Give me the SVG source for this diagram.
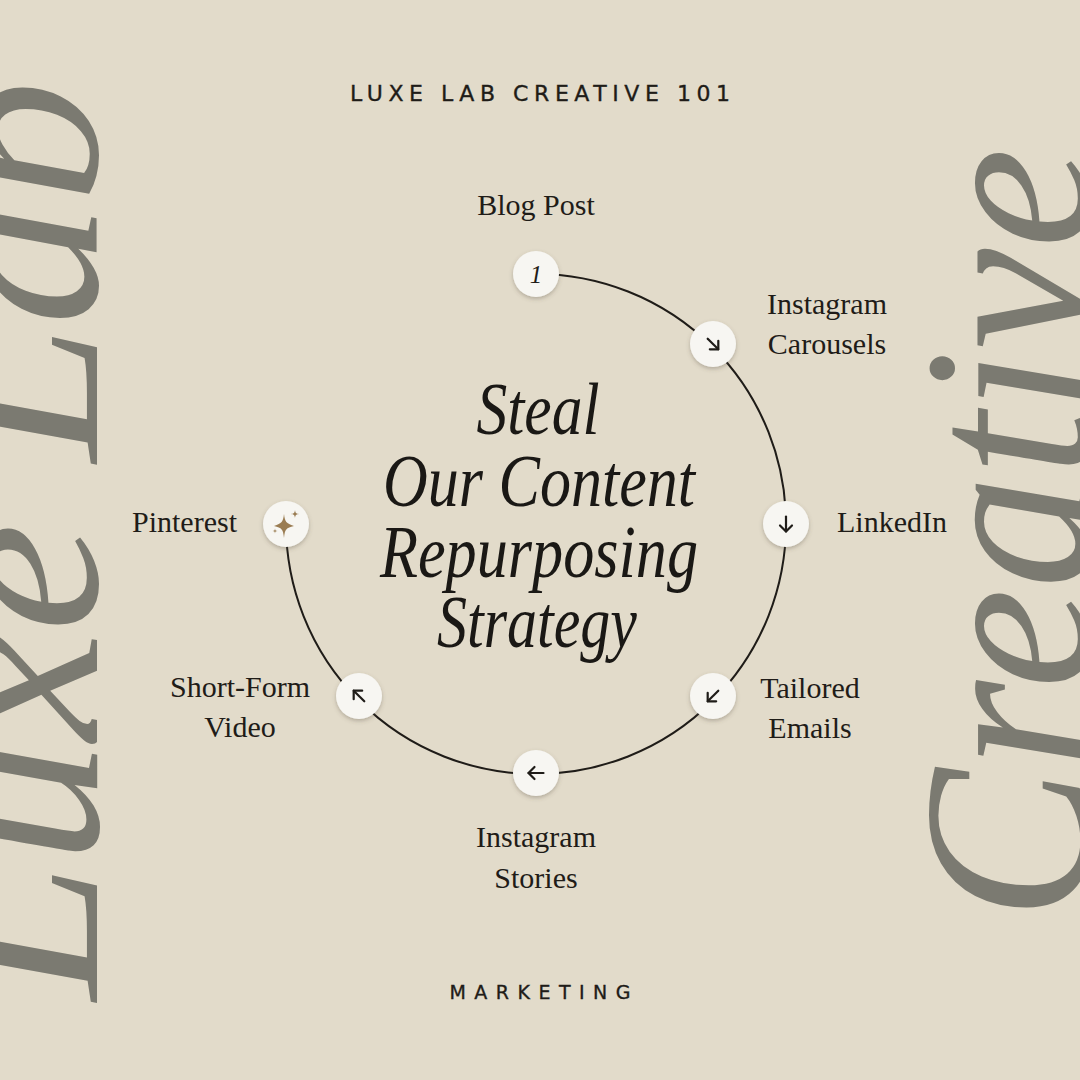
<svg xmlns="http://www.w3.org/2000/svg" width="1080" height="1080" viewBox="0 0 1080 1080">
  <defs>
    <style>
      .big { font-family: "Liberation Serif", "DejaVu Serif", serif; font-style: italic; font-size: 240px; fill: #7b7a71; }
      .lbl { font-family: "Liberation Serif", "DejaVu Serif", serif; font-size: 30px; fill: #1f1c18; }
      .ttl { font-family: "Liberation Serif", "DejaVu Serif", serif; font-style: italic; font-size: 74px; fill: #1a1815; }
      .cap { font-family: "DejaVu Sans", Inter, sans-serif; fill: #1f1c18; stroke: #1f1c18; stroke-width: 0.35; }
      .node { fill: #f7f6f2; filter: url(#sh); }
      .arr { fill: none; stroke: #1f1c18; stroke-width: 2.2; stroke-linecap: round; stroke-linejoin: round; }
      .ring { fill: none; stroke: #1f1c18; stroke-width: 2; }
    </style>
    <filter id="sh" x="-50%" y="-50%" width="200%" height="200%">
      <feDropShadow dx="0" dy="2" stdDeviation="2" flood-color="#5a5040" flood-opacity="0.35"/>
    </filter>
    <g id="arrow">
      <line class="arr" x1="-7.5" y1="0" x2="7.5" y2="0"/>
      <polyline class="arr" points="1.5,-6 7.5,0 1.5,6"/>
    </g>
  </defs>

  <rect width="1080" height="1080" fill="#e2dbca"/>

  <!-- side lettering -->
  <text class="big" transform="translate(97,1000) rotate(-90)" x="0" y="0" textLength="920" lengthAdjust="spacingAndGlyphs">Luxe Lab</text>
  <text class="big" transform="translate(1088,920) rotate(-90)" x="0" y="0" textLength="772" lengthAdjust="spacingAndGlyphs">Creative</text>

  <!-- header / footer -->
  <text class="cap" x="540" y="101" font-size="22" text-anchor="middle" textLength="380">LUXE LAB CREATIVE 101</text>
  <text class="cap" x="540" y="999" font-size="19" text-anchor="middle" textLength="181">MARKETING</text>

  <!-- centre title -->
  <g id="title">
    <text class="ttl" x="538" y="434" text-anchor="middle" textLength="123" lengthAdjust="spacingAndGlyphs">Steal</text>
    <text class="ttl" x="539" y="506" text-anchor="middle" textLength="312" lengthAdjust="spacingAndGlyphs">Our Content</text>
    <text class="ttl" x="539" y="577" text-anchor="middle" textLength="318" lengthAdjust="spacingAndGlyphs">Repurposing</text>
    <text class="ttl" x="537" y="647" text-anchor="middle" textLength="200" lengthAdjust="spacingAndGlyphs">Strategy</text>
  </g>

  <!-- connectors -->
  <g id="connectors">
    <path class="ring" d="M 536 274 A 250 250 0 1 1 286 524"/>
  </g>

  <!-- nodes -->
  <g id="node-blog">
    <circle class="node" cx="536" cy="274" r="23"/>
    <text x="536" y="283" font-family="Liberation Serif, serif" font-style="italic" font-size="25" fill="#1f1c18" text-anchor="middle">1</text>
    <text class="lbl" x="536" y="215" text-anchor="middle">Blog Post</text>
  </g>
  <g id="node-carousels">
    <circle class="node" cx="713" cy="344" r="23"/>
    <use href="#arrow" transform="translate(713,344) rotate(45)"/>
    <text class="lbl" x="827" y="314" text-anchor="middle">Instagram</text>
    <text class="lbl" x="827" y="354" text-anchor="middle">Carousels</text>
  </g>
  <g id="node-linkedin">
    <circle class="node" cx="786" cy="524" r="23"/>
    <use href="#arrow" transform="translate(786,524) rotate(90)"/>
    <text class="lbl" x="837" y="532">LinkedIn</text>
  </g>
  <g id="node-emails">
    <circle class="node" cx="713" cy="696" r="23"/>
    <use href="#arrow" transform="translate(713,696) rotate(135)"/>
    <text class="lbl" x="810" y="698" text-anchor="middle">Tailored</text>
    <text class="lbl" x="810" y="738" text-anchor="middle">Emails</text>
  </g>
  <g id="node-stories">
    <circle class="node" cx="536" cy="773" r="23"/>
    <use href="#arrow" transform="translate(536,773) rotate(180)"/>
    <text class="lbl" x="536" y="847" text-anchor="middle">Instagram</text>
    <text class="lbl" x="536" y="888" text-anchor="middle">Stories</text>
  </g>
  <g id="node-video">
    <circle class="node" cx="359" cy="696" r="23"/>
    <use href="#arrow" transform="translate(359,696) rotate(225)"/>
    <text class="lbl" x="240" y="697" text-anchor="middle">Short-Form</text>
    <text class="lbl" x="240" y="737" text-anchor="middle">Video</text>
  </g>
  <g id="node-pinterest">
    <circle class="node" cx="286" cy="524" r="23"/>
    <path d="M 284 514 C 285 522 286 523 294 526 C 286 528 285 529 284 538 C 283 529 282 528 274 526 C 282 523 283 522 284 514 Z" fill="#9a7c52"/>
    <path d="M 295 510 C 295.4 513 296 513.6 299 514 C 296 514.4 295.4 515 295 518 C 294.6 515 294 514.4 291 514 C 294 513.6 294.6 513 295 510 Z" fill="#9a7c52"/>
    <path d="M 275 528.5 C 275.3 530.5 275.5 530.7 277.5 531 C 275.5 531.3 275.3 531.5 275 533.5 C 274.7 531.5 274.5 531.3 272.5 531 C 274.5 530.7 274.7 530.5 275 528.5 Z" fill="#9a7c52"/>
    <text class="lbl" x="237" y="532" text-anchor="end">Pinterest</text>
  </g>
</svg>
